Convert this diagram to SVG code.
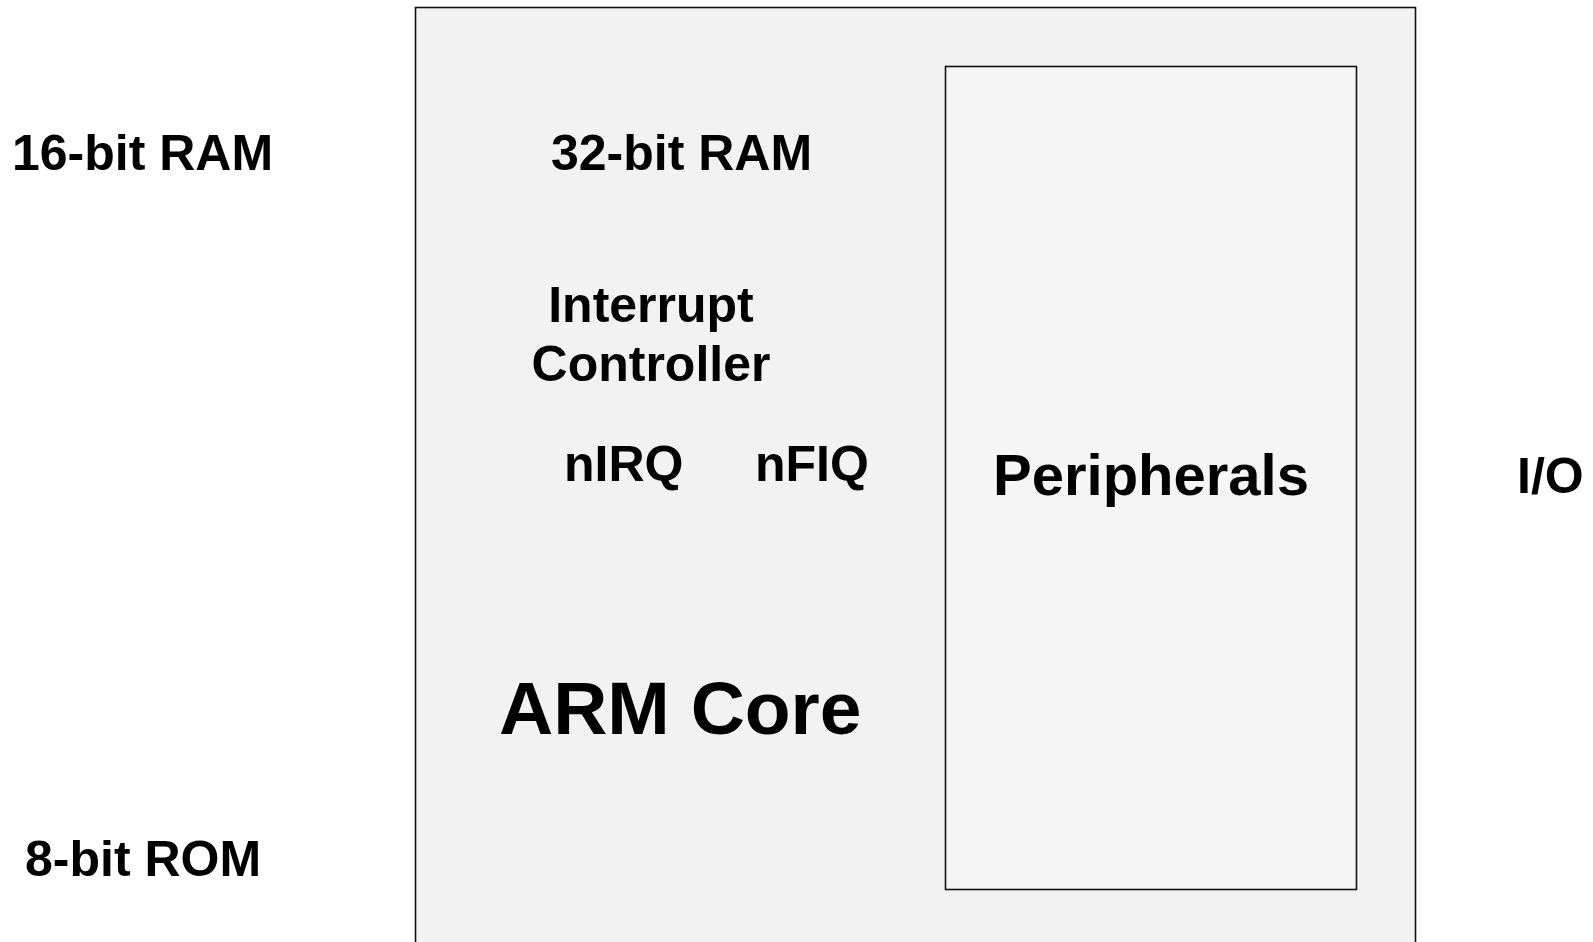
<svg xmlns="http://www.w3.org/2000/svg" width="1593" height="942" viewBox="0 0 1593 942">
<style>
text{font-family:"Liberation Sans",Arial,sans-serif;font-weight:bold;fill:#000}
.box{stroke:#111;stroke-width:1.6}
</style>
<rect x="0" y="0" width="1593" height="942" fill="#fff"/>
<g id="chip">
<rect class="box" x="415.5" y="7.5" width="1000" height="960" fill="#f2f2f2"/>
</g>
<g id="peripherals">
<rect class="box" x="945.5" y="66.5" width="411" height="823" fill="#f5f5f5"/>
<text x="1151" y="495" font-size="58" text-anchor="middle">Peripherals</text>
</g>
<g id="ram16"><text x="12" y="170" font-size="50">16-bit RAM</text></g>
<g id="rom8"><text x="25" y="876" font-size="50">8-bit ROM</text></g>
<g id="ram32"><text x="551" y="170" font-size="50">32-bit RAM</text></g>
<g id="intc">
<text x="651" y="322" font-size="50" text-anchor="middle">Interrupt</text>
<text x="651" y="381" font-size="50" text-anchor="middle">Controller</text>
</g>
<g id="nirq"><text x="564" y="481" font-size="50">nIRQ</text></g>
<g id="nfiq"><text x="755" y="481" font-size="50">nFIQ</text></g>
<g id="core"><text x="499" y="734" font-size="75">ARM Core</text></g>
<g id="io"><text x="1517" y="493" font-size="50">I/O</text></g>
<g id="connectors"></g>
</svg>
